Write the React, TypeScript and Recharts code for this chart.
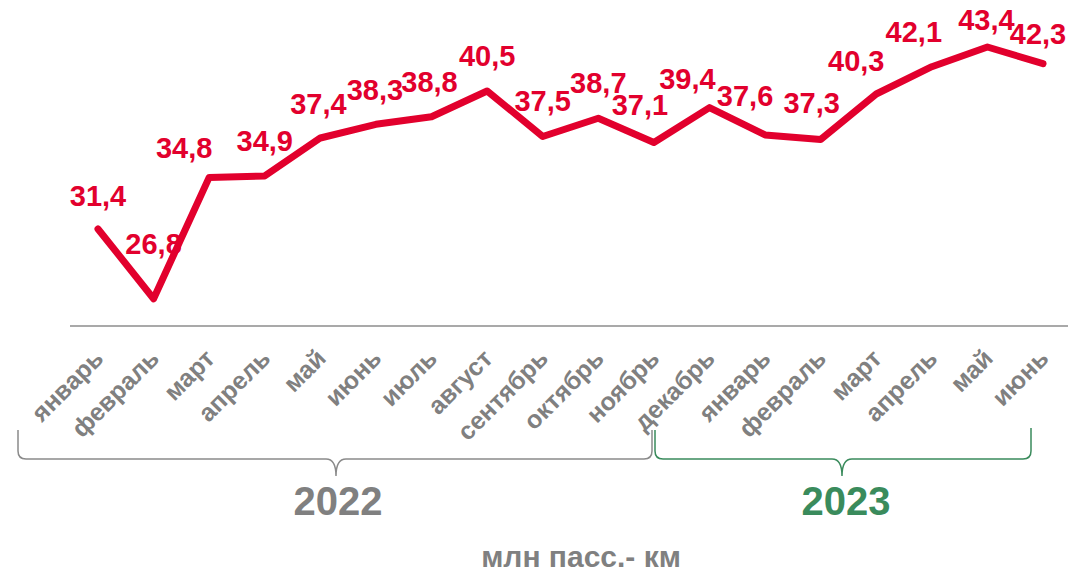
import { LineChart, Line, XAxis, YAxis, LabelList, Customized } from "recharts";

const MONTHS = [
  "январь", "февраль", "март", "апрель", "май", "июнь",
  "июль", "август", "сентябрь", "октябрь", "ноябрь", "декабрь",
  "январь", "февраль", "март", "апрель", "май", "июнь",
];

const PASSENGER_KM = [
  31.4, 26.8, 34.8, 34.9, 37.4, 38.3, 38.8, 40.5, 37.5,
  38.7, 37.1, 39.4, 37.6, 37.3, 40.3, 42.1, 43.4, 42.3,
];

const YEARS = ["2022", "2023"];
const UNIT = "млн пасс.- км";

// label nudges so the numbers don't sit on the line (dx, baseline dy)
const LABEL_SHIFT: [number, number][] = [
  [0, -23], [0, -45], [-25, -19], [0, -25], [-2, -24], [-1, -24],
  [-2, -25], [0, -25], [0, -25], [0, -25], [-14, -28], [-22, -19],
  [-20, -29], [-9, -26], [-20, -23], [-18, -25], [-1, -17], [-5, -20],
];

const RED = "#e2002d";
const GRAY = "#808080";
const GREEN = "#3a8b5c";
const FONT = "'Liberation Sans', Arial, sans-serif";

const data = PASSENGER_KM.map((v, i) => ({ key: `m${i}`, value: v }));

const fmt = (v: number) => v.toFixed(1).replace(".", ",");

function MonthTick(props: any) {
  const { x, y, payload } = props;
  const ax = x + 7;
  const ay = y + 26;
  return (
    <text
      x={ax}
      y={ay}
      transform={`rotate(-45 ${ax} ${ay})`}
      textAnchor="end"
      fill={GRAY}
      fontSize={25}
      fontWeight="bold"
      fontFamily={FONT}
    >
      {MONTHS[payload.index]}
    </text>
  );
}

function ValueLabel(props: any) {
  const { x, y, value, index } = props;
  const [dx, dy] = LABEL_SHIFT[index] || [0, -25];
  return (
    <text
      x={x + dx}
      y={y + dy}
      textAnchor="middle"
      fill={RED}
      fontSize={29}
      fontWeight="bold"
      fontFamily={FONT}
    >
      {fmt(value)}
    </text>
  );
}

function Braces() {
  return (
    <g fill="none" strokeWidth={1.5}>
      <path
        d="M18,430 L18,451 Q18,459 26,459 L326,459 Q336,459 336,476 Q336,459 346,459 L644,459 Q652,459 652,451 L652,430"
        stroke="#8a8a8a"
      />
      <path
        d="M655,430 L655,451 Q655,459 663,459 L832,459 Q842,459 842,476 Q842,459 852,459 L1023,459 Q1031,459 1031,451 L1031,428"
        stroke={GREEN}
      />
      <text x={338} y={515} textAnchor="middle" fill={GRAY} fontSize={40} fontWeight="bold" fontFamily={FONT}>
        {YEARS[0]}
      </text>
      <text x={846} y={515} textAnchor="middle" fill={GREEN} fontSize={40} fontWeight="bold" fontFamily={FONT}>
        {YEARS[1]}
      </text>
      <text x={581} y={567} textAnchor="middle" fill={GRAY} fontSize={30} fontWeight="bold" fontFamily={FONT}>
        {UNIT}
      </text>
    </g>
  );
}

export default function App() {
  return (
    <div style={{ position: "absolute", left: 0, top: 0, width: 1068, height: 572, background: "#fff" }}>
      <LineChart
        width={1068}
        height={572}
        data={data}
        margin={{ top: 0, right: -3, left: 70, bottom: 0 }}
      >
        <XAxis
          dataKey="key"
          interval={0}
          height={246}
          padding={{ left: 28, right: 28 }}
          tickLine={false}
          axisLine={{ stroke: "#8c8c8c", strokeWidth: 1.5 }}
          tick={<MonthTick />}
        />
        <YAxis hide domain={[25, 46.5]} />
        <Line
          type="linear"
          dataKey="value"
          stroke={RED}
          strokeWidth={7}
          strokeLinejoin="round"
          strokeLinecap="round"
          dot={false}
          isAnimationActive={false}
        >
          <LabelList dataKey="value" content={<ValueLabel />} />
        </Line>
        <Customized component={<Braces />} />
      </LineChart>
    </div>
  );
}
